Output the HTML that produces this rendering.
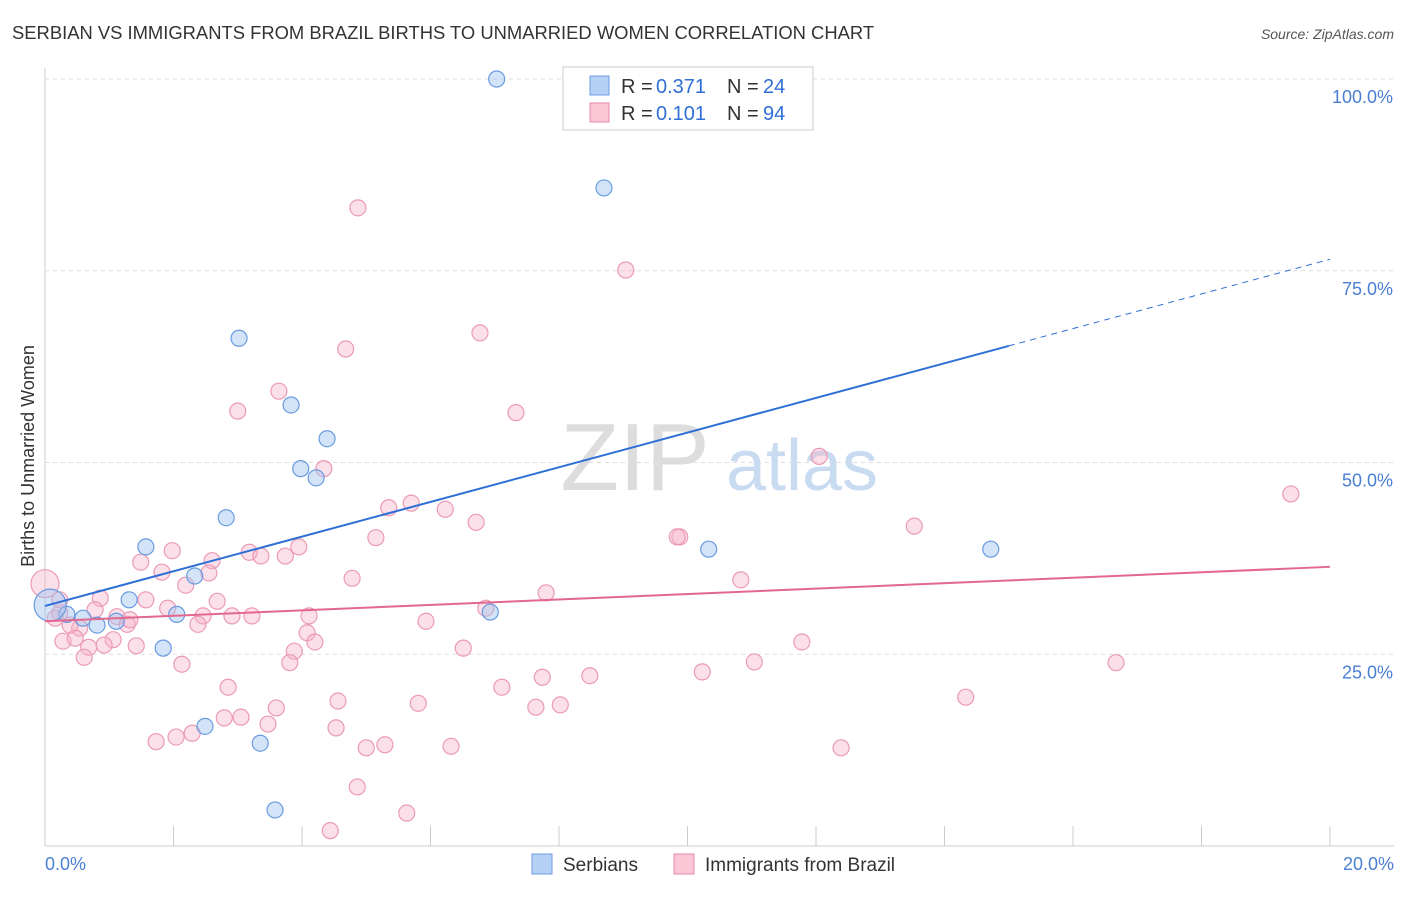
<!DOCTYPE html>
<html><head><meta charset="utf-8"><style>
body{margin:0;background:#fff;font-family:"Liberation Sans",sans-serif;}
svg text{font-family:"Liberation Sans",sans-serif;}
</style></head><body>
<svg id="c" width="1406" height="892" viewBox="0 0 1406 892" xmlns="http://www.w3.org/2000/svg">
<text x="12" y="39" font-size="18.4" fill="#333">SERBIAN VS IMMIGRANTS FROM BRAZIL BIRTHS TO UNMARRIED WOMEN CORRELATION CHART</text>
<text x="1394" y="39" font-size="14" fill="#555" font-style="italic" text-anchor="end">Source: ZipAtlas.com</text>
<text x="34" y="456" font-size="18" fill="#333" text-anchor="middle" transform="rotate(-90 34 456)">Births to Unmarried Women</text>
<g id="grid"></g>
<g><text x="635" y="490" font-size="96" fill="#ddd" font-family="Liberation Serif,serif" text-anchor="middle">ZIP</text><text x="802" y="490" font-size="72" fill="#c9dbf1" text-anchor="middle">atlas</text></g>
<g id="pts"></g>
<g id="lines"></g>
<g>
<rect x="563" y="67" width="250" height="63" fill="#fff" stroke="#ccc"/>
<rect x="590" y="76" width="19" height="19" fill="#b5d1f5" stroke="#6d9ee0"/>
<rect x="590" y="103" width="19" height="19" fill="#f9c7d6" stroke="#e88aa9"/>
<text x="621" y="93" font-size="20" fill="#333">R =</text><text x="656" y="93" font-size="20" fill="#2f6fd6">0.371</text>
<text x="727" y="93" font-size="20" fill="#333">N =</text><text x="763" y="93" font-size="20" fill="#2f6fd6">24</text>
<text x="621" y="120" font-size="20" fill="#333">R =</text><text x="656" y="120" font-size="20" fill="#2f6fd6">0.101</text>
<text x="727" y="120" font-size="20" fill="#333">N =</text><text x="763" y="120" font-size="20" fill="#2f6fd6">94</text>
</g>
<g>
<rect x="532" y="854" width="20" height="20" fill="#b5d1f5" stroke="#6d9ee0"/>
<text x="563" y="871" font-size="19" fill="#333">Serbians</text>
<rect x="674" y="854" width="20" height="20" fill="#f9c7d6" stroke="#e88aa9"/>
<text x="705" y="871" font-size="19" fill="#333">Immigrants from Brazil</text>
</g>
</svg>
<script>
const yTicks=[25,50,75,100];
const yTickLabels=["25.0%","50.0%","75.0%","100.0%"];
const xTicks=[0,2,4,6,8,10,12,14,16,18,20];
const serbX=[7.03,8.70,3.02,3.83,4.39,3.98,4.22,2.82,1.57,2.33,1.31,2.05,0.34,0.59,0.81,1.11,1.84,2.49,3.35,3.58,6.93,10.33,14.72,0.08];
const serbY=[100,85.8,66.2,57.5,53.1,49.2,48.0,42.8,39.0,35.2,32.1,30.2,30.2,29.7,28.8,29.3,25.8,15.6,13.4,4.7,30.5,38.7,38.7,31.4];
const brX=[4.87,9.04,6.77,4.68,3.64,3.00,7.33,12.05,4.34,19.39,5.70,5.35,6.23,6.71,13.53,5.15,9.88,9.84,3.95,1.98,3.18,3.36,3.74,1.49,2.60,1.82,4.78,10.83,2.55,2.19,7.80,0.86,1.57,2.68,1.91,0.78,6.86,4.11,2.46,2.91,3.22,0.23,0.16,1.12,1.28,2.38,5.93,0.54,4.08,1.06,0.28,4.20,0.47,0.92,1.42,0.68,3.88,6.51,11.78,0.61,3.81,2.13,11.04,16.67,7.74,8.48,10.23,7.11,2.85,14.33,4.56,5.81,7.64,8.02,3.60,3.05,2.79,3.47,4.53,2.29,2.04,1.73,5.29,5.00,6.32,12.39,4.86,5.63,4.44,0,0.23,0.39,1.32];
const brY=[83.2,75.1,66.9,64.8,59.3,56.7,56.5,50.8,49.2,45.9,44.7,44.1,43.9,42.2,41.7,40.2,40.3,40.3,39.0,38.5,38.3,37.8,37.8,37.0,37.2,35.7,34.9,34.7,35.6,34.0,33.0,32.3,32.1,31.9,31.0,30.8,31.0,30.0,30.0,30.0,30.0,30.4,29.7,29.9,28.9,28.9,29.3,28.4,27.8,26.9,26.7,26.6,27.1,26.2,26.1,25.9,25.4,25.8,26.6,24.6,23.9,23.7,24.0,23.9,22.0,22.2,22.7,20.7,20.7,19.4,18.9,18.6,18.1,18.4,18.0,16.8,16.7,15.9,15.4,14.7,14.2,13.6,13.2,12.8,13.0,12.8,7.7,4.3,2.0,34.2,32.1,28.8,29.5];
const serbTrend=[31.3,2.26];
const brTrend=[29.3,0.355];
const X=v=>45+v/20*1285, Y=v=>846-v/100*767;
const NS="http://www.w3.org/2000/svg";
function mk(t,a,p){const e=document.createElementNS(NS,t);for(const k in a)e.setAttribute(k,a[k]);p.appendChild(e);return e;}
const svg=document.getElementById('c'),grid=document.getElementById('grid'),pts=document.getElementById('pts'),lines=document.getElementById('lines');
mk('line',{x1:45,y1:68,x2:45,y2:846,stroke:'#ccc'},grid);
mk('line',{x1:45,y1:846,x2:1394,y2:846,stroke:'#ccc'},grid);
yTicks.forEach((t,i)=>{
 const l=mk('line',{x1:45,y1:Y(t),x2:1394,y2:Y(t),stroke:'#ddd','stroke-dasharray':'4 4'},grid);
 
 
 const tx=mk('text',{x:1393,y:Y(t)+24,'font-size':18,fill:'#4a7fd4','text-anchor':'end'},svg);
 tx.textContent=yTickLabels[i];
 
 
});
xTicks.forEach(t=>{
 const l=mk('line',{x1:X(t),y1:826,x2:X(t),y2:846,stroke:'#ccc'},grid);
 
 
});
const xl0=mk('text',{x:45,y:870,'font-size':18,fill:'#4a7fd4'},svg);xl0.textContent='0.0%';


const xl1=mk('text',{x:1394,y:870,'font-size':18,fill:'#4a7fd4','text-anchor':'end'},svg);xl1.textContent='20.0%';


brX.forEach((x,i)=>{
 const r=i==89?14:8;
 const c=mk('circle',{cx:X(x),cy:Y(brY[i]),r:r,fill:'rgba(247,178,200,0.4)',stroke:'#eb9ab5','stroke-width':1.2},pts);
 
 
});
serbX.forEach((x,i)=>{
 const r=i==23?16:8;
 const c=mk('circle',{cx:X(x),cy:Y(serbY[i]),r:r,fill:'rgba(160,196,240,0.45)',stroke:'#6a9be0','stroke-width':1.2},pts);
 
 
});
const l1=mk('line',{x1:X(0),y1:Y(serbTrend[0]),x2:X(15),y2:Y(serbTrend[0]+15*serbTrend[1]),stroke:'#2d6fd6','stroke-width':2},lines);


const l2=mk('line',{x1:X(15),y1:Y(serbTrend[0]+15*serbTrend[1]),x2:X(20),y2:Y(serbTrend[0]+20*serbTrend[1]),stroke:'#2d6fd6','stroke-width':1,'stroke-dasharray':'6 5'},lines);


const l3=mk('line',{x1:X(0),y1:Y(brTrend[0]),x2:X(20),y2:Y(brTrend[0]+20*brTrend[1]),stroke:'#e3678f','stroke-width':2},lines);


</script>
</body></html>
